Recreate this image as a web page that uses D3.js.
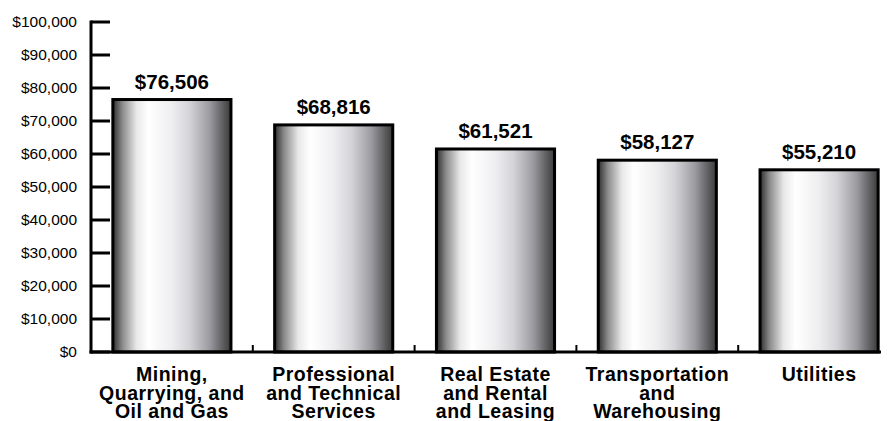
<!DOCTYPE html>
<html>
<head>
<meta charset="utf-8">
<script src="https://cdn.jsdelivr.net/npm/d3@7"></script>
<style>
  body { margin: 0; background: #fff; }
  text { font-family: Arial, "Liberation Sans", Helvetica, sans-serif; }
</style>
</head>
<body>
<svg id="chart"></svg>
<script>
const width = 890;
const height = 421;

const categories = [
    ["Mining,", "Quarrying, and", "Oil and Gas"],
    ["Professional", "and Technical", "Services"],
    ["Real Estate", "and Rental", "and Leasing"],
    ["Transportation", "and", "Warehousing"],
    ["Utilities"]
];
const values = [76506, 68816, 61521, 58127, 55210];
const yTicks = [0, 10000, 20000, 30000, 40000, 50000, 60000, 70000, 80000, 90000, 100000];

const svg = d3.select("#chart")
    .attr("width", width)
    .attr("height", height);

const x = d3.scaleBand()
    .domain(d3.range(values.length))
    .range([91, 900])
    .paddingInner(0.27)
    .paddingOuter(0.135);

const y = d3.scaleLinear()
    .domain([0, 100000])
    .range([352, 22]);

// metallic gradient for the bars
const grad = svg.append("defs").append("linearGradient")
    .attr("id", "metal")
    .attr("x1", "0%").attr("x2", "100%")
    .attr("y1", "0%").attr("y2", "0%");
[
    [0, "#2e2e2e"],
    [0.08, "#8a8a8a"],
    [0.2, "#e8e8e8"],
    [0.3, "#ffffff"],
    [0.5, "#eeeef0"],
    [0.65, "#d4d4d8"],
    [0.82, "#9a9aa0"],
    [1, "#3a3a3a"]
].forEach(s => grad.append("stop").attr("offset", s[0]).attr("stop-color", s[1]));

// bars
svg.append("g")
    .selectAll("rect")
    .data(values).enter()
    .append("rect")
    .attr("x", (d, i) => x(i))
    .attr("y", d => y(d))
    .attr("width", x.bandwidth())
    .attr("height", d => y(0) - y(d))
    .attr("fill", "url(#metal)")
    .attr("stroke", "#000")
    .attr("stroke-width", 3);

// value labels
svg.append("g")
    .selectAll("text")
    .data(values).enter()
    .append("text")
    .attr("x", (d, i) => x(i) + x.bandwidth() / 2)
    .attr("y", d => y(d) - 11)
    .attr("text-anchor", "middle")
    .attr("font-size", 20.5)
    .attr("font-weight", "bold")
    .attr("fill", "#000")
    .text(d => "$" + d3.format(",")(d));

// y axis
const yAxis = svg.append("g");
yAxis.append("line")
    .attr("x1", 91).attr("x2", 91)
    .attr("y1", y(100000) - 1.5).attr("y2", y(0) + 1.5)
    .attr("stroke", "#000").attr("stroke-width", 3);
yAxis.selectAll("line.tick")
    .data(yTicks).enter()
    .append("line")
    .attr("class", "tick")
    .attr("x1", 91).attr("x2", 110)
    .attr("y1", d => y(d)).attr("y2", d => y(d))
    .attr("stroke", "#000").attr("stroke-width", 3);
yAxis.selectAll("text")
    .data(yTicks).enter()
    .append("text")
    .attr("x", 77)
    .attr("y", d => y(d) + 5)
    .attr("text-anchor", "end")
    .attr("font-size", 15.5)
    .attr("fill", "#000")
    .text(d => "$" + d3.format(",")(d));

// x axis
const xAxis = svg.append("g");
xAxis.append("line")
    .attr("x1", 89.5).attr("x2", 881)
    .attr("y1", y(0)).attr("y2", y(0))
    .attr("stroke", "#000").attr("stroke-width", 3);
xAxis.selectAll("line.tick")
    .data(d3.range(1, values.length)).enter()
    .append("line")
    .attr("class", "tick")
    .attr("x1", i => x(i) - x.step() * x.paddingInner() / 2)
    .attr("x2", i => x(i) - x.step() * x.paddingInner() / 2)
    .attr("y1", y(0)).attr("y2", y(0) - 7)
    .attr("stroke", "#000").attr("stroke-width", 2);

const labels = xAxis.selectAll("text")
    .data(categories).enter()
    .append("text")
    .attr("text-anchor", "middle")
    .attr("font-size", 19.5)
    .attr("font-weight", "bold")
    .attr("letter-spacing", 0.5)
    .attr("fill", "#000");
labels.each(function(lines, i) {
    const t = d3.select(this);
    lines.forEach((l, k) => {
        t.append("tspan")
            .attr("x", x(i) + x.bandwidth() / 2)
            .attr("y", 381 + k * 18.5)
            .text(l);
    });
});
</script>
</body>
</html>
